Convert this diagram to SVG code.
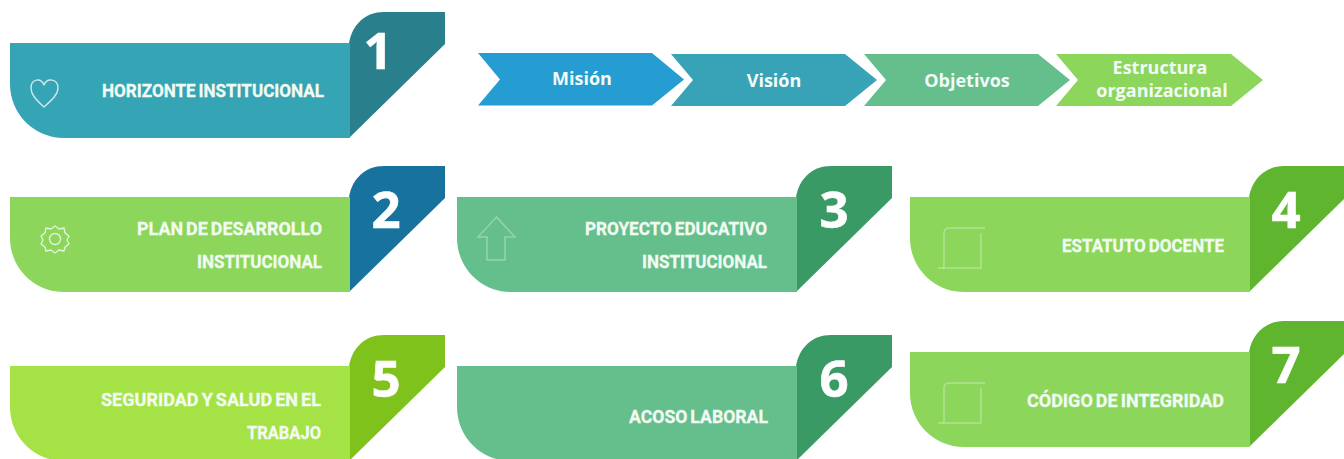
<svg xmlns="http://www.w3.org/2000/svg" xmlns:xlink="http://www.w3.org/1999/xlink" width="1344" height="459" viewBox="0 0 1344 459">
<style>
.lbl{font-family:"Roboto","Liberation Sans",sans-serif;font-weight:700;font-size:19px;word-spacing:-1.5px;fill:#f2fbf2;stroke:#f2fbf2;stroke-width:.3;text-anchor:end}
.num{font-family:"Open Sans","Liberation Sans",sans-serif;font-weight:700;font-size:51px;fill:#fff;text-anchor:middle;stroke:#fff;stroke-width:.6}
.chv{font-family:"Open Sans","Liberation Sans",sans-serif;font-weight:700;font-size:18px;fill:#f2fbf8;text-anchor:middle}
.ico{fill:none;stroke:#fff;stroke-opacity:.75;stroke-width:1.4;stroke-linejoin:round}
.ico2{fill:none;stroke:#fff;stroke-opacity:.32;stroke-width:1.5}
</style>
<defs>
<path id="body" d="M0 0H340V95H54C24 95 0 71 0 41Z"/>
<path id="tab" d="M339 95V0C342 -18 355 -31 374 -31H435V1Z"/>
<g id="scroll" class="ico2"><path d="M34 36V71H71V36"/><path d="M34 36C34 33 36 31 40 31H75"/><path d="M28 71H34"/></g>
</defs>

<g id="chevrons">
<g id="chevron-mision"><path fill="#259CD2" d="M478 53H652L684 79.500L652 105.500H478L500 79.500Z"/><text class="chv" x="582" y="85">Misión</text></g>
<g id="chevron-vision"><path fill="#38A3B6" d="M671 54H845L877 80L845 106H671L693 80Z"/><text class="chv" x="774" y="87">Visión</text></g>
<g id="chevron-objetivos"><path fill="#64BF8D" d="M864 54H1038L1070 80L1038 106H864L886 80Z"/><text class="chv" x="967" y="87">Objetivos</text></g>
<g id="chevron-estructura"><path fill="#8BD65B" d="M1056 54H1231L1263 80L1231 106H1056L1078 80Z"/><text class="chv" x="1160" y="74">Estructura</text><text class="chv" x="1162" y="97">organizacional</text></g>
</g>

<g id="node-1" transform="translate(10 43)">
<use xlink:href="#tab" href="#tab" fill="#2A7F8C"/><use xlink:href="#body" href="#body" fill="#35A4B5"/>
<text class="num" x="368" y="26">1</text>
<path class="ico" d="M34 64C25 56 21 51 21 45C21 36 31 34 34 42C37 34 48 36 48 45C48 51 43 56 34 64Z"/>
<text class="lbl" x="314" y="54" textLength="222" lengthAdjust="spacingAndGlyphs">HORIZONTE INSTITUCIONAL</text>
</g>

<g id="node-2" transform="translate(10 197)">
<use xlink:href="#tab" href="#tab" fill="#17729E"/><use xlink:href="#body" href="#body" fill="#8BD65B"/>
<text class="num" x="376" y="31">2</text>
<g class="ico"><circle cx="45" cy="42" r="5.500"/><path d="M45 29L49 32L54 31L55 36L59 39L57 43L59 47L55 50L54 54L49 53L45 56L41 53L36 54L35 50L31 47L33 43L31 39L35 36L36 31L41 32Z"/></g>
<text class="lbl" x="312" y="38" textLength="185" lengthAdjust="spacingAndGlyphs">PLAN DE DESARROLLO</text>
<text class="lbl" x="312" y="71" textLength="125" lengthAdjust="spacingAndGlyphs">INSTITUCIONAL</text>
</g>

<g id="node-3" transform="translate(457 197)">
<use xlink:href="#tab" href="#tab" fill="#3A9A66"/><use xlink:href="#body" href="#body" fill="#64BF8D"/>
<text class="num" x="377" y="31">3</text>
<path class="ico2" d="M39.500 20L58 40H48V63H30V40H21Z"/>
<text class="lbl" x="310" y="38" textLength="182" lengthAdjust="spacingAndGlyphs">PROYECTO EDUCATIVO</text>
<text class="lbl" x="310" y="71" textLength="125" lengthAdjust="spacingAndGlyphs">INSTITUCIONAL</text>
</g>

<g id="node-4" transform="translate(910 197)">
<use xlink:href="#tab" href="#tab" fill="#60B52E"/><use xlink:href="#body" href="#body" fill="#8BD65B"/>
<text class="num" x="376" y="31">4</text>
<use xlink:href="#scroll" href="#scroll"/>
<text class="lbl" x="314" y="55" textLength="162" lengthAdjust="spacingAndGlyphs">ESTATUTO DOCENTE</text>
</g>

<g id="node-5" transform="translate(10 366)">
<use xlink:href="#tab" href="#tab" fill="#7FC21C"/><use xlink:href="#body" href="#body" fill="#A5E245"/>
<text class="num" x="376" y="31">5</text>
<text class="lbl" x="311" y="40" textLength="220" lengthAdjust="spacingAndGlyphs">SEGURIDAD Y SALUD EN EL</text>
<text class="lbl" x="311" y="73" textLength="74" lengthAdjust="spacingAndGlyphs">TRABAJO</text>
</g>

<g id="node-6" transform="translate(457 366)">
<use xlink:href="#tab" href="#tab" fill="#3A9A66"/><use xlink:href="#body" href="#body" fill="#64BF8D"/>
<text class="num" x="377" y="31">6</text>
<text class="lbl" x="311" y="57" textLength="139" lengthAdjust="spacingAndGlyphs">ACOSO LABORAL</text>
</g>

<g id="node-7" transform="translate(910 352)">
<use xlink:href="#tab" href="#tab" fill="#60B52E"/><use xlink:href="#body" href="#body" fill="#8BD65B"/>
<text class="num" x="376" y="31">7</text>
<use xlink:href="#scroll" href="#scroll"/>
<text class="lbl" x="314" y="55" textLength="197" lengthAdjust="spacingAndGlyphs">CÓDIGO DE INTEGRIDAD</text>
</g>
</svg>
